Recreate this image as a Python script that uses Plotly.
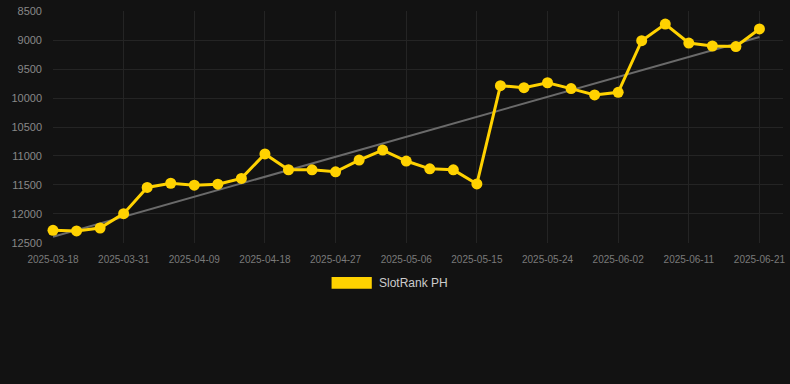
import numpy as np
import plotly.graph_objects as go

dates = [
    "2025-03-18", "2025-03-22", "2025-03-27", "2025-03-31", "2025-04-03", "2025-04-06",
    "2025-04-09", "2025-04-12", "2025-04-15", "2025-04-18", "2025-04-21", "2025-04-24",
    "2025-04-27", "2025-04-30", "2025-05-03", "2025-05-06", "2025-05-09", "2025-05-12",
    "2025-05-15", "2025-05-18", "2025-05-21", "2025-05-24", "2025-05-27", "2025-05-30",
    "2025-06-02", "2025-06-05", "2025-06-08", "2025-06-11", "2025-06-14", "2025-06-17",
    "2025-06-21",
]
ranks = [
    12281, 12292, 12242, 11994, 11543, 11470, 11504, 11487, 11386, 10964, 11237,
    11239, 11273, 11070, 10897, 11087, 11222, 11239, 11482, 9788, 9822, 9737,
    9838, 9946, 9901, 9011, 8724, 9052, 9103, 9113, 8809,
]
tick_labels = dates[::3]
y_ticks = [8500, 9000, 9500, 10000, 10500, 11000, 11500, 12000, 12500]
y_tick_text = [str(v) for v in y_ticks]
series_name = "SlotRank PH"

# linear trend
idx = np.arange(len(ranks))
slope, intercept = np.polyfit(idx, ranks, 1)
trend = slope * idx + intercept

gold = "#FFD200"
bg = "#121212"
grid = "#242424"

fig = go.Figure()
fig.add_trace(go.Scatter(
    x=dates, y=trend, mode="lines",
    line=dict(color="#6a6a6a", width=2),
    showlegend=False, hoverinfo="skip", cliponaxis=False,
))
fig.add_trace(go.Scatter(
    x=dates, y=ranks, mode="lines+markers", name=series_name,
    line=dict(color=gold, width=3),
    marker=dict(color=gold, size=11),
    showlegend=False, cliponaxis=False,
))

# legend drawn as swatch + label
fig.add_shape(type="rect", xref="paper", yref="paper",
              x0=0.3816, x1=0.4367, y0=-0.1970, y1=-0.1464,
              fillcolor=gold, line=dict(width=0))
fig.add_annotation(text=series_name, xref="paper", yref="paper",
                   x=0.4434, y=-0.1717, xanchor="left", yanchor="middle",
                   showarrow=False, font=dict(color="#cccccc", size=12))

fig.update_layout(
    width=790, height=384,
    paper_bgcolor=bg, plot_bgcolor=bg,
    margin=dict(l=53, r=5, t=6, b=141),
    font=dict(family="Liberation Sans, Arial, sans-serif"),
    showlegend=False,
)
fig.update_xaxes(
    type="category", range=[0, len(dates)],
    tickmode="array", tickvals=tick_labels, ticktext=tick_labels,
    showgrid=True, gridcolor=grid, gridwidth=1,
    zeroline=False, showline=False,
    ticks="", ticklabelstandoff=9,
    tickfont=dict(color="#7a7a7a", size=10),
)
fig.update_yaxes(
    range=[12500.5, 8499.5], tickmode="array", tickvals=y_ticks, ticktext=y_tick_text,
    showgrid=True, gridcolor=grid, gridwidth=1,
    zeroline=False, showline=False,
    ticks="", ticklabelstandoff=10, ticklabeloverflow="allow",
    tickfont=dict(color="#888888", size=11),
)

fig.write_html("out.html", config={"displayModeBar": False})

with open("out.html", "r", encoding="utf-8") as f:
    html = f.read()
html = html.replace("<head>", "<head><style>html,body{margin:0;padding:0;background:#121212;overflow:hidden}</style>", 1)
with open("out.html", "w", encoding="utf-8") as f:
    f.write(html)
